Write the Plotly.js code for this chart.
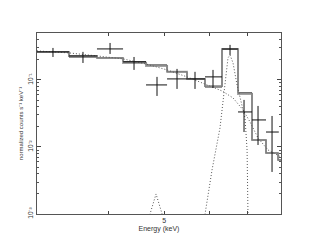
<!DOCTYPE html>
<html>
<head>
<meta charset="utf-8">
<script src="https://cdn.plot.ly/plotly-3.0.1.min.js"></script>
<style>
html,body{margin:0;padding:0;background:#fff;}
#chart{width:319px;height:247px;}
</style>
</head>
<body>
<div id="chart"></div>
<script>
// Observed data points (bin centres, bin edges, values and 1-sigma bounds)
const energy   = [3.199, 3.609, 4.024, 4.431, 4.860, 5.267, 5.662, 6.087, 6.518, 6.895, 7.294, 7.717];
const eLow     = [3.000, 3.412, 3.818, 4.240, 4.650, 5.060, 5.483, 5.894, 6.311, 6.731, 7.120, 7.532];
const eHigh    = [3.412, 3.818, 4.240, 4.650, 5.060, 5.483, 5.894, 6.311, 6.731, 7.120, 7.532, 7.930];
const counts   = [0.262, 0.228, 0.290, 0.186, 0.0842, 0.1035, 0.1035, 0.111, 0.290, 0.0333, 0.0253, 0.0167];
const countsHi = [0.300, 0.262, 0.356, 0.220, 0.111, 0.146, 0.132, 0.141, 0.333, 0.0503, 0.0409, 0.0290];
const countsLo = [0.220, 0.179, 0.244, 0.141, 0.0577, 0.0734, 0.0734, 0.0760, 0.236, 0.0167, 0.0107, 0.00424];

// Folded model (step histograms)
const modelEdges = [3.0, 3.412, 3.818, 4.240, 4.650, 5.060, 5.483, 5.894, 6.311, 6.731, 7.120, 7.532, 7.906, 8.0];
const modelBlack = [0.262, 0.220, 0.213, 0.186, 0.167, 0.132, 0.1035, 0.0786, 0.285, 0.0640, 0.0127, 0.00813, 0.00640];
const modelGray  = [0.262, 0.228, 0.213, 0.179, 0.162, 0.132, 0.1035, 0.0814, 0.290, 0.0618, 0.0127, 0.00813, 0.00640];

// Continuum component (dotted)
const contE = [3.0, 3.412, 3.818, 4.240, 4.650, 5.060, 5.483, 5.894, 6.311, 6.597, 6.868, 7.064, 7.294, 7.593, 7.874, 8.0];
const contY = [0.271, 0.253, 0.228, 0.206, 0.173, 0.141, 0.111, 0.0872, 0.0685, 0.0539, 0.0357, 0.0236, 0.0136, 0.00902, 0.0076, 0.00709];

// Line components (dotted)
const fekE = [5.871, 6.063, 6.260, 6.362, 6.465, 6.518, 6.597, 6.704, 6.813, 6.923, 6.980, 7.008];
const fekY = [0.0008, 0.00454, 0.0192, 0.0709, 0.213, 0.236, 0.179, 0.0842, 0.0454, 0.0271, 0.00902, 0.0008];
const weakE = [4.688, 4.841, 5.000];
const weakY = [0.0008, 0.00199, 0.0008];

// axis tick labels
const xTickVals = [4, 5, 6, 7];
const xTickText = ['', '5', '', ''];
const yTickVals = [0.001, 0.01, 0.1];
const yTickText = ['10\u207B\u00B3', '10\u207B\u00B2', '10\u207B\u00B9'];
const yMinor = [];
[0.001, 0.01, 0.1].forEach(d => { for (let k = 2; k <= 9; k++) yMinor.push(d * k); });

function stepY(vals) { return vals.concat([vals[vals.length - 1]]); }

const dotted = {color: '#555', width: 1, dash: '1px,2px'};

const traces = [
  {x: modelEdges, y: stepY(modelBlack), mode: 'lines', line: {shape: 'hv', color: '#111', width: 1}, hoverinfo: 'skip'},
  {x: modelEdges, y: stepY(modelGray), mode: 'lines', line: {shape: 'hv', color: 'rgba(140,140,140,0.8)', width: 2}, hoverinfo: 'skip'},
  {x: contE, y: contY, mode: 'lines', line: dotted, hoverinfo: 'skip'},
  {x: fekE, y: fekY, mode: 'lines', line: dotted, hoverinfo: 'skip'},
  {x: weakE, y: weakY, mode: 'lines', line: dotted, hoverinfo: 'skip'},
  {
    x: energy, y: counts, mode: 'markers',
    marker: {size: 1, color: 'rgba(0,0,0,0)'},
    error_y: {type: 'data', symmetric: false,
      array: counts.map((v, i) => countsHi[i] - v),
      arrayminus: counts.map((v, i) => v - countsLo[i]),
      color: '#111', thickness: 1, width: 0},
    error_x: {type: 'data', symmetric: false,
      array: energy.map((v, i) => eHigh[i] - v),
      arrayminus: energy.map((v, i) => v - eLow[i]),
      color: '#111', thickness: 1, width: 0},
    hoverinfo: 'skip'
  }
];

const font = {family: 'Liberation Sans, Arial, sans-serif', size: 7, color: '#333'};

const layout = {
  width: 319, height: 247,
  margin: {l: 37, r: 38, t: 33, b: 33, pad: 0},
  paper_bgcolor: '#fff', plot_bgcolor: '#fff',
  showlegend: false,
  font: font,
  xaxis: {
    type: 'log', range: [Math.log10(3), Math.log10(8)],
    tickmode: 'array', tickvals: xTickVals, ticktext: xTickText,
    ticks: 'inside', ticklen: 3, tickwidth: 1, tickcolor: '#444',
    showline: true, linecolor: '#555', linewidth: 1, mirror: 'ticks',
    showgrid: false, zeroline: false,
    tickfont: {family: font.family, size: 7, color: '#333'},
    title: {text: 'Energy (keV)', font: {family: font.family, size: 7, color: '#333'}, standoff: 2}
  },
  yaxis: {
    type: 'log', range: [-3, -0.3],
    tickmode: 'array', tickvals: yTickVals, ticktext: yTickText,
    tickangle: -90,
    ticks: 'inside', ticklen: 4, tickwidth: 1, tickcolor: '#444',
    minor: {tickmode: 'array', tickvals: yMinor, ticks: 'inside', ticklen: 2, tickcolor: '#555', showgrid: false},
    showline: true, linecolor: '#555', linewidth: 1, mirror: 'ticks',
    showgrid: false, zeroline: false,
    tickfont: {family: font.family, size: 6.5, color: '#333'},
    title: {text: 'normalized counts s\u207B\u00B9 keV\u207B\u00B9', font: {family: font.family, size: 6, color: '#333'}, standoff: 3}
  }
};

Plotly.newPlot('chart', traces, layout, {staticPlot: true, displayModeBar: false});
</script>
</body>
</html>
